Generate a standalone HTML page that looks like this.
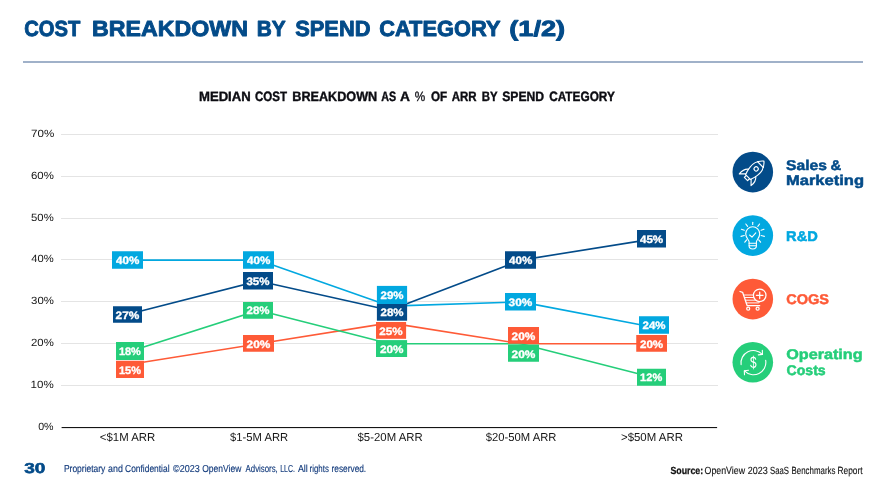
<!DOCTYPE html>
<html lang="en"><head><meta charset="utf-8"><title>Cost Breakdown by Spend Category (1/2)</title>
<style>
html,body{margin:0;padding:0;background:#fff;}
body{width:893px;height:500px;overflow:hidden;font-family:"Liberation Sans",sans-serif;}
svg{display:block}
text{font-family:"Liberation Sans",sans-serif;text-rendering:geometricPrecision;}
.b{font-weight:bold}
</style></head><body>
<svg width="893" height="500" viewBox="0 0 893 500">
<rect width="893" height="500" fill="#fff"/>
<text class="b" y="36.35" font-size="21.9" fill="#034b89" stroke="#034b89" stroke-width="0.9" stroke-linejoin="round"><tspan x="24.25" textLength="56.07" lengthAdjust="spacingAndGlyphs">COST</tspan> <tspan x="92.09" textLength="155.88" lengthAdjust="spacingAndGlyphs">BREAKDOWN</tspan> <tspan x="256.67" textLength="28.62" lengthAdjust="spacingAndGlyphs">BY</tspan> <tspan x="295.23" textLength="75.24" lengthAdjust="spacingAndGlyphs">SPEND</tspan> <tspan x="379.17" textLength="120.92" lengthAdjust="spacingAndGlyphs">CATEGORY</tspan> <tspan x="509.22" textLength="55.97" lengthAdjust="spacingAndGlyphs">(1/2)</tspan></text>
<rect x="23" y="61" width="840" height="2" fill="#a0b1c9"/>
<text class="b" y="101.40" font-size="13.6" fill="#0c0c12" stroke="#0c0c12" stroke-width="0.4" stroke-linejoin="round"><tspan x="198.96" textLength="51.74" lengthAdjust="spacingAndGlyphs">MEDIAN</tspan> <tspan x="254.96" textLength="32.10" lengthAdjust="spacingAndGlyphs">COST</tspan> <tspan x="292.30" textLength="84.87" lengthAdjust="spacingAndGlyphs">BREAKDOWN</tspan> <tspan x="381.16" textLength="14.87" lengthAdjust="spacingAndGlyphs">AS</tspan> <tspan x="400.07" textLength="9.43" lengthAdjust="spacingAndGlyphs">A</tspan> <tspan x="414.75" textLength="10.45" lengthAdjust="spacingAndGlyphs" font-weight="normal" stroke-width="0.3">%</tspan> <tspan x="430.88" textLength="16.22" lengthAdjust="spacingAndGlyphs">OF</tspan> <tspan x="451.69" textLength="24.93" lengthAdjust="spacingAndGlyphs">ARR</tspan> <tspan x="481.69" textLength="15.63" lengthAdjust="spacingAndGlyphs">BY</tspan> <tspan x="502.21" textLength="41.92" lengthAdjust="spacingAndGlyphs">SPEND</tspan> <tspan x="549.15" textLength="65.72" lengthAdjust="spacingAndGlyphs">CATEGORY</tspan></text>
<rect x="61" y="385" width="657" height="1" fill="#e4e4e4"/>
<rect x="61" y="343" width="657" height="1" fill="#e4e4e4"/>
<rect x="61" y="301" width="657" height="1" fill="#e4e4e4"/>
<rect x="61" y="259" width="657" height="1" fill="#e4e4e4"/>
<rect x="61" y="218" width="657" height="1" fill="#e4e4e4"/>
<rect x="61" y="176" width="657" height="1" fill="#e4e4e4"/>
<rect x="61" y="134" width="657" height="1" fill="#e4e4e4"/>
<text y="429.60" font-size="10.5" fill="#161616"><tspan x="38.18" textLength="15.40" lengthAdjust="spacingAndGlyphs">0%</tspan></text>
<text y="387.60" font-size="10.5" fill="#161616"><tspan x="30.60" textLength="23.12" lengthAdjust="spacingAndGlyphs">10%</tspan></text>
<text y="345.60" font-size="10.5" fill="#161616"><tspan x="31.03" textLength="22.73" lengthAdjust="spacingAndGlyphs">20%</tspan></text>
<text y="303.60" font-size="10.5" fill="#161616"><tspan x="31.08" textLength="22.75" lengthAdjust="spacingAndGlyphs">30%</tspan></text>
<text y="261.60" font-size="10.5" fill="#161616"><tspan x="31.36" textLength="22.41" lengthAdjust="spacingAndGlyphs">40%</tspan></text>
<text y="220.60" font-size="10.5" fill="#161616"><tspan x="31.07" textLength="22.61" lengthAdjust="spacingAndGlyphs">50%</tspan></text>
<text y="178.60" font-size="10.5" fill="#161616"><tspan x="30.99" textLength="22.84" lengthAdjust="spacingAndGlyphs">60%</tspan></text>
<text y="136.60" font-size="10.5" fill="#161616"><tspan x="31.06" textLength="23.17" lengthAdjust="spacingAndGlyphs">70%</tspan></text>
<rect x="61.6" y="427" width="655.5" height="1.1" fill="#151515"/>
<text y="441.20" font-size="11.6" fill="#161616"><tspan x="99.85" textLength="55.46" lengthAdjust="spacingAndGlyphs">&lt;$1M ARR</tspan></text>
<text y="441.20" font-size="11.6" fill="#161616"><tspan x="230.12" textLength="58.07" lengthAdjust="spacingAndGlyphs">$1-5M ARR</tspan></text>
<text y="441.20" font-size="11.6" fill="#161616"><tspan x="357.56" textLength="65.10" lengthAdjust="spacingAndGlyphs">$5-20M ARR</tspan></text>
<text y="441.20" font-size="11.6" fill="#161616"><tspan x="485.85" textLength="70.65" lengthAdjust="spacingAndGlyphs">$20-50M ARR</tspan></text>
<text y="441.20" font-size="11.6" fill="#161616"><tspan x="620.97" textLength="61.93" lengthAdjust="spacingAndGlyphs">&gt;$50M ARR</tspan></text>
<polyline points="127.3,314.5 258.5,281.0 389.7,310.3 520.9,260.1 652.1,239.1" fill="none" stroke="#034b89" stroke-width="1.6" stroke-linejoin="round"/>
<polyline points="127.3,260.1 258.5,260.1 389.7,306.1 520.9,301.9 652.1,327.0" fill="none" stroke="#02a8e0" stroke-width="1.6" stroke-linejoin="round"/>
<polyline points="127.3,364.7 258.5,343.8 389.7,322.9 520.9,343.8 652.1,343.8" fill="none" stroke="#fe5a37" stroke-width="1.6" stroke-linejoin="round"/>
<polyline points="127.3,352.2 258.5,310.3 389.7,343.8 520.9,343.8 652.1,377.3" fill="none" stroke="#25ce7a" stroke-width="1.6" stroke-linejoin="round"/>
<rect x="112" y="251.25" width="31.00" height="17.50" fill="#02a8e0"/><text class="b" y="264.22" font-size="10.8" fill="#fff" stroke="#fff" stroke-width="0.35" stroke-linejoin="round"><tspan x="115.97" textLength="23.37" lengthAdjust="spacingAndGlyphs">40%</tspan></text>
<rect x="113" y="306.25" width="29.00" height="16.50" fill="#034b89"/><text class="b" y="318.72" font-size="10.8" fill="#fff" stroke="#fff" stroke-width="0.35" stroke-linejoin="round"><tspan x="115.61" textLength="23.76" lengthAdjust="spacingAndGlyphs">27%</tspan></text>
<rect x="116" y="342" width="28.00" height="18.00" fill="#25ce7a"/><text class="b" y="355.22" font-size="10.8" fill="#fff" stroke="#fff" stroke-width="0.35" stroke-linejoin="round"><tspan x="118.97" textLength="21.88" lengthAdjust="spacingAndGlyphs">18%</tspan></text>
<rect x="116" y="360.75" width="28.00" height="17.25" fill="#fe5a37"/><text class="b" y="373.60" font-size="10.8" fill="#fff" stroke="#fff" stroke-width="0.35" stroke-linejoin="round"><tspan x="118.95" textLength="21.98" lengthAdjust="spacingAndGlyphs">15%</tspan></text>
<rect x="243" y="251.25" width="31.00" height="17.50" fill="#02a8e0"/><text class="b" y="264.22" font-size="10.8" fill="#fff" stroke="#fff" stroke-width="0.35" stroke-linejoin="round"><tspan x="246.97" textLength="23.37" lengthAdjust="spacingAndGlyphs">40%</tspan></text>
<rect x="243" y="272" width="30.00" height="17.50" fill="#034b89"/><text class="b" y="284.97" font-size="10.8" fill="#fff" stroke="#fff" stroke-width="0.35" stroke-linejoin="round"><tspan x="246.46" textLength="23.07" lengthAdjust="spacingAndGlyphs">35%</tspan></text>
<rect x="243" y="302" width="30.00" height="16.75" fill="#25ce7a"/><text class="b" y="314.05" font-size="10.8" fill="#fff" stroke="#fff" stroke-width="0.35" stroke-linejoin="round"><tspan x="246.52" textLength="23.03" lengthAdjust="spacingAndGlyphs">28%</tspan></text>
<rect x="243" y="335" width="31.00" height="16.75" fill="#fe5a37"/><text class="b" y="347.60" font-size="10.8" fill="#fff" stroke="#fff" stroke-width="0.35" stroke-linejoin="round"><tspan x="246.61" textLength="23.75" lengthAdjust="spacingAndGlyphs">20%</tspan></text>
<rect x="376.9" y="285.9" width="30.20" height="18.10" fill="#02a8e0"/><text class="b" y="298.62" font-size="10.8" fill="#fff" stroke="#fff" stroke-width="0.35" stroke-linejoin="round"><tspan x="380.51" textLength="23.03" lengthAdjust="spacingAndGlyphs">29%</tspan></text>
<rect x="376.9" y="304" width="30.20" height="16.70" fill="#034b89"/><text class="b" y="316.03" font-size="10.8" fill="#fff" stroke="#fff" stroke-width="0.35" stroke-linejoin="round"><tspan x="380.51" textLength="23.03" lengthAdjust="spacingAndGlyphs">28%</tspan></text>
<rect x="376" y="322" width="30.10" height="16.80" fill="#fe5a37"/><text class="b" y="334.62" font-size="10.8" fill="#fff" stroke="#fff" stroke-width="0.35" stroke-linejoin="round"><tspan x="379.39" textLength="23.28" lengthAdjust="spacingAndGlyphs">25%</tspan></text>
<rect x="376" y="340.1" width="31.10" height="16.90" fill="#25ce7a"/><text class="b" y="352.77" font-size="10.8" fill="#fff" stroke="#fff" stroke-width="0.35" stroke-linejoin="round"><tspan x="379.92" textLength="23.51" lengthAdjust="spacingAndGlyphs">20%</tspan></text>
<rect x="505" y="251.25" width="31.00" height="17.50" fill="#034b89"/><text class="b" y="264.22" font-size="10.8" fill="#fff" stroke="#fff" stroke-width="0.35" stroke-linejoin="round"><tspan x="508.95" textLength="23.38" lengthAdjust="spacingAndGlyphs">40%</tspan></text>
<rect x="505" y="293" width="31.00" height="17.50" fill="#02a8e0"/><text class="b" y="305.97" font-size="10.8" fill="#fff" stroke="#fff" stroke-width="0.35" stroke-linejoin="round"><tspan x="508.60" textLength="23.74" lengthAdjust="spacingAndGlyphs">30%</tspan></text>
<rect x="508" y="327" width="31.00" height="16.75" fill="#fe5a37"/><text class="b" y="339.60" font-size="10.8" fill="#fff" stroke="#fff" stroke-width="0.35" stroke-linejoin="round"><tspan x="511.60" textLength="23.75" lengthAdjust="spacingAndGlyphs">20%</tspan></text>
<rect x="508" y="344.5" width="31.00" height="17.25" fill="#25ce7a"/><text class="b" y="357.95" font-size="10.8" fill="#fff" stroke="#fff" stroke-width="0.35" stroke-linejoin="round"><tspan x="511.59" textLength="23.87" lengthAdjust="spacingAndGlyphs">20%</tspan></text>
<rect x="637" y="230" width="29.00" height="17.50" fill="#034b89"/><text class="b" y="242.97" font-size="10.8" fill="#fff" stroke="#fff" stroke-width="0.35" stroke-linejoin="round"><tspan x="639.94" textLength="23.29" lengthAdjust="spacingAndGlyphs">45%</tspan></text>
<rect x="639" y="316.25" width="30.00" height="17.50" fill="#02a8e0"/><text class="b" y="329.22" font-size="10.8" fill="#fff" stroke="#fff" stroke-width="0.35" stroke-linejoin="round"><tspan x="642.51" textLength="23.03" lengthAdjust="spacingAndGlyphs">24%</tspan></text>
<rect x="636.25" y="335" width="30.75" height="16.75" fill="#fe5a37"/><text class="b" y="347.60" font-size="10.8" fill="#fff" stroke="#fff" stroke-width="0.35" stroke-linejoin="round"><tspan x="639.91" textLength="23.30" lengthAdjust="spacingAndGlyphs">20%</tspan></text>
<rect x="637" y="368.75" width="29.00" height="17.00" fill="#25ce7a"/><text class="b" y="381.47" font-size="10.8" fill="#fff" stroke="#fff" stroke-width="0.35" stroke-linejoin="round"><tspan x="640.14" textLength="22.06" lengthAdjust="spacingAndGlyphs">12%</tspan></text>
<g id="legend">
<circle cx="752.8" cy="172.1" r="20.3" fill="#034b89"/>
<g transform="translate(754.6,170.4) rotate(45)" fill="none" stroke="#fff" stroke-width="1.15" stroke-linejoin="round" stroke-linecap="round">
<path d="M0,-13.2 C4.4,-9.5 6.3,-3.5 5.5,1.5 C5.1,4.5 4.4,7 3.4,9.4 L-3.4,9.4 C-4.4,7 -5.1,4.5 -5.5,1.5 C-6.3,-3.5 -4.4,-9.5 0,-13.2 Z"/>
<path d="M-4.1,-8.2 L4.1,-8.2"/>
<circle cx="0" cy="-2.2" r="2.1"/>
<path d="M-5.3,3.6 C-7.6,5.6 -8.8,9 -8.3,13.3 L-3.8,8.7"/>
<path d="M5.3,3.6 C7.6,5.6 8.8,9 8.3,13.3 L3.8,8.7"/>
<path d="M-2.3,9.5 L-2.3,12.2 L2.3,12.2 L2.3,9.5"/>
</g>

<circle cx="752.8" cy="235.6" r="20.3" fill="#02a8e0"/>
<g fill="none" stroke="#fff" stroke-width="1.1" stroke-linecap="round" stroke-linejoin="round">
<path d="M749.1,243.2 L749.1,241.8 C749.1,240 745.7,238.2 745.7,233.8 A7,7 0 0 1 759.7,233.8 C759.7,238.2 756.4,240 756.4,241.8 L756.4,243.2 Z"/>
<path d="M749.1,243.2 L749.1,245.8 C749.1,247.6 750.6,249 752.75,249 C754.9,249 756.4,247.6 756.4,245.8 L756.4,243.2"/>
<path d="M749.1,245.8 L756.4,245.8"/>
<path d="M749.6,235 L752,237.1 L755.8,232.9"/>
<path d="M752.7,222.3 L752.7,224.5"/>
<path d="M745.8,224 L747.6,226.4 M759.6,224 L757.8,226.4"/>
<path d="M741.4,229.2 L744.3,230.2 M764,229.2 L761.1,230.2"/>
<path d="M741,236.4 L744.3,235.5 M764.4,236.4 L761.1,235.5"/>
<path d="M744.8,242.2 L746.7,239.8 M760.6,242.2 L758.7,239.8"/>
</g>

<circle cx="752.8" cy="299.1" r="20.3" fill="#fe5a37"/>
<g fill="none" stroke="#fff" stroke-width="1.25" stroke-linecap="round" stroke-linejoin="round">
<path d="M740,291.5 L742.6,292.3 L747.2,305.7 L759.7,305.7"/>
<path stroke-width="0.95" d="M743.6,295 L753.2,295 M744.4,297.5 L753.6,297.5 M745.3,300.2 L755.5,300.2 M746.2,302.9 L758.8,302.9 L759.6,301.6"/>
<circle cx="748.2" cy="308.7" r="1.5"/>
<circle cx="757.6" cy="308.7" r="1.5"/>
<circle cx="759.7" cy="295.3" r="6.3"/>
<path d="M756.4,295.3 L763,295.3 M759.7,292 L759.7,298.6"/>
</g>

<circle cx="752.8" cy="362.3" r="20.3" fill="#25ce7a"/>
<g fill="none" stroke="#fff" stroke-width="1.1" stroke-linecap="round" stroke-linejoin="round">
<path d="M741.1,364.7 A12.4,12.4 0 0 1 762.3,354.3"/>
<path d="M758.3,354.9 L762.5,354.4 L762.3,350.4"/>
<path d="M765.7,360.3 A12.4,12.4 0 0 1 744.5,370.9"/>
<path d="M748.5,370.2 L744.3,370.8 L744.5,374.8"/>
</g>
<text x="750.1" y="368.3" font-size="16.6" fill="#fff" textLength="6.6" lengthAdjust="spacingAndGlyphs">$</text>
</g>
<text class="b" y="169.65" font-size="14.1" fill="#034b89" stroke="#034b89" stroke-width="0.5" stroke-linejoin="round"><tspan x="786.09" textLength="40.79" lengthAdjust="spacingAndGlyphs">Sales</tspan> <tspan x="830.49" textLength="10.72" lengthAdjust="spacingAndGlyphs">&amp;</tspan></text>
<text class="b" y="185.05" font-size="14.1" fill="#034b89" stroke="#034b89" stroke-width="0.5" stroke-linejoin="round"><tspan x="785.98" textLength="78.01" lengthAdjust="spacingAndGlyphs">Marketing</tspan></text>
<text class="b" y="241.25" font-size="14.1" fill="#02a8e0" stroke="#02a8e0" stroke-width="0.5" stroke-linejoin="round"><tspan x="786.11" textLength="31.68" lengthAdjust="spacingAndGlyphs">R&amp;D</tspan></text>
<text class="b" y="304.35" font-size="14.1" fill="#fe5a37" stroke="#fe5a37" stroke-width="0.5" stroke-linejoin="round"><tspan x="786.18" textLength="42.86" lengthAdjust="spacingAndGlyphs">COGS</tspan></text>
<text class="b" y="359.15" font-size="14.1" fill="#25ce7a" stroke="#25ce7a" stroke-width="0.5" stroke-linejoin="round"><tspan x="786.22" textLength="76.37" lengthAdjust="spacingAndGlyphs">Operating</tspan></text>
<text class="b" y="374.65" font-size="14.1" fill="#25ce7a" stroke="#25ce7a" stroke-width="0.5" stroke-linejoin="round"><tspan x="786.46" textLength="39.25" lengthAdjust="spacingAndGlyphs">Costs</tspan></text>
<text class="b" y="472.50" font-size="14.4" fill="#034b89" stroke="#034b89" stroke-width="0.6" stroke-linejoin="round"><tspan x="24.27" textLength="21.16" lengthAdjust="spacingAndGlyphs">30</tspan></text>
<text y="472.12" font-size="10.1" fill="#143c7d" stroke="#143c7d" stroke-width="0.15" stroke-linejoin="round"><tspan x="63.94" textLength="41.43" lengthAdjust="spacingAndGlyphs">Proprietary</tspan> <tspan x="108.09" textLength="14.81" lengthAdjust="spacingAndGlyphs">and</tspan> <tspan x="125.12" textLength="44.39" lengthAdjust="spacingAndGlyphs">Confidential</tspan> <tspan x="173.02" textLength="26.64" lengthAdjust="spacingAndGlyphs">©2023</tspan> <tspan x="202.25" textLength="39.03" lengthAdjust="spacingAndGlyphs">OpenView</tspan> <tspan x="245.55" textLength="32.26" lengthAdjust="spacingAndGlyphs">Advisors,</tspan> <tspan x="280.27" textLength="14.65" lengthAdjust="spacingAndGlyphs">LLC.</tspan> <tspan x="297.90" textLength="9.86" lengthAdjust="spacingAndGlyphs">All</tspan> <tspan x="309.62" textLength="19.26" lengthAdjust="spacingAndGlyphs">rights</tspan> <tspan x="331.57" textLength="34.62" lengthAdjust="spacingAndGlyphs">reserved.</tspan></text>
<text class="b" y="474.07" font-size="10.3" fill="#111" stroke="#111" stroke-width="0.25" stroke-linejoin="round"><tspan x="670.38" textLength="32.80" lengthAdjust="spacingAndGlyphs">Source:</tspan></text>
<text y="474.14" font-size="10.4" fill="#111" stroke="#111" stroke-width="0.12" stroke-linejoin="round"><tspan x="704.58" textLength="40.48" lengthAdjust="spacingAndGlyphs">OpenView</tspan> <tspan x="747.85" textLength="20.00" lengthAdjust="spacingAndGlyphs">2023</tspan> <tspan x="770.00" textLength="18.90" lengthAdjust="spacingAndGlyphs">SaaS</tspan> <tspan x="791.61" textLength="43.77" lengthAdjust="spacingAndGlyphs">Benchmarks</tspan> <tspan x="837.46" textLength="25.08" lengthAdjust="spacingAndGlyphs">Report</tspan></text>
</svg>
</body></html>
